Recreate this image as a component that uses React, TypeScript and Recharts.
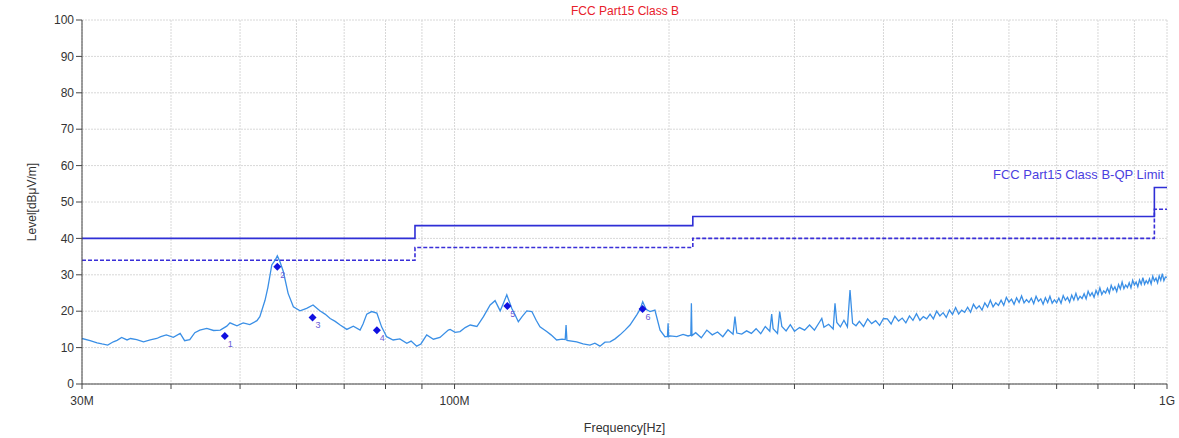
import React from 'react';
import {
  ComposedChart,
  Line,
  Scatter,
  XAxis,
  YAxis,
  CartesianGrid,
} from 'recharts';

// EMC radiated scan, 30 MHz - 1 GHz, FCC Part15 Class B
const xTicks = [30, 40, 50, 60, 70, 80, 90, 100, 200, 300, 400, 500, 600, 700, 800, 900, 1000];
const xTickLabels: Record<number, string> = { 30: '30M', 100: '100M', 1000: '1G' };
const yTicks = [0, 10, 20, 30, 40, 50, 60, 70, 80, 90, 100];

const limitFreq = [30, 88, 216, 960, 1000];
const qpLimit = [40, 43.5, 46, 54, 54];
const qpMargin = [34, 37.5, 40, 48, 48];

const markerFreq = [47.6, 56.4, 63.2, 77.8, 118.6, 183.6];
const markerLevel = [13.2, 32.2, 18.3, 14.8, 21.4, 20.6];

// [MHz, dBuV/m]
const trace: [number, number][] = [
  [30.0, 12.5], [30.8, 11.9], [31.5, 11.3], [32.0, 11.0], [32.6, 10.7], [33.2, 11.6],
  [33.6, 12.0], [34.1, 12.8], [34.7, 12.1], [35.1, 12.5], [35.8, 12.2], [36.6, 11.6],
  [37.4, 12.1], [38.2, 12.5], [38.7, 13.0], [39.4, 13.5], [40.3, 12.8], [41.2, 13.9],
  [41.8, 11.9], [42.5, 12.2], [43.2, 14.1], [43.9, 14.8], [44.9, 15.3], [45.9, 14.7],
  [46.9, 14.8], [47.9, 15.9], [48.4, 16.8], [49.5, 16.0], [50.5, 16.8], [51.6, 16.3],
  [52.8, 17.4], [53.3, 18.5], [54.2, 23.0], [54.7, 26.5], [55.4, 32.7], [56.0, 34.0],
  [56.4, 35.2], [56.9, 33.5], [57.5, 30.9], [58.4, 24.9], [59.4, 21.2], [60.7, 20.1],
  [62.0, 20.8], [63.3, 21.7], [64.7, 20.1], [65.8, 19.2], [66.9, 18.0], [68.0, 17.2],
  [69.1, 16.2], [70.6, 15.0], [72.1, 15.9], [73.7, 14.8], [74.4, 16.5], [75.3, 19.2],
  [76.5, 19.9], [77.8, 19.5], [79.0, 15.7], [80.3, 13.0], [82.0, 12.1], [83.8, 12.4],
  [85.7, 11.2], [86.9, 11.8], [88.5, 10.4], [89.7, 11.0], [91.4, 13.5], [93.4, 12.3],
  [95.4, 12.8], [98.0, 14.8], [98.6, 15.0], [100.2, 14.2], [101.8, 14.4], [103.5, 15.5],
  [105.2, 16.2], [107.5, 15.8], [109.8, 18.5], [112.2, 21.7], [114.0, 22.9], [115.9, 20.1],
  [117.0, 22.0], [118.4, 24.5], [120.3, 20.8], [121.6, 19.0], [122.9, 17.1], [124.4, 18.5],
  [126.3, 20.1], [128.4, 19.9], [130.2, 17.5], [131.8, 15.7], [134.7, 14.4], [136.6, 13.5],
  [139.1, 12.1], [141.6, 12.3], [143.0, 12.2], [143.4, 16.2], [143.8, 12.0], [148.4, 11.6],
  [151.5, 11.0], [154.9, 10.7], [157.4, 11.2], [160.0, 10.4], [162.6, 11.5], [165.3, 11.6],
  [168.0, 12.4], [170.7, 13.5], [173.5, 14.8], [176.3, 16.2], [180.2, 19.0], [182.1, 20.5],
  [183.7, 22.6], [185.7, 20.5], [188.1, 19.9], [191.1, 20.3], [194.3, 14.8], [197.4, 13.0],
  [199.0, 13.1], [199.4, 16.7], [199.8, 13.0], [200.7, 13.2], [205.1, 13.0], [209.3, 13.6],
  [212.7, 13.2], [214.6, 13.4], [215.0, 22.2], [215.4, 13.3],
  [218, 14.1], [222, 12.7], [226, 14.8], [230, 13.5], [234, 14.3], [238, 13.0],
  [242, 14.9], [246, 13.7], [247.5, 18.5], [249, 14.0], [253, 13.7], [257, 14.6],
  [261, 13.9], [265, 15.2], [269, 13.8], [273, 15.8], [277, 14.5], [278.7, 19.2],
  [280, 15.2], [284, 13.9], [286, 19.9], [288, 15.8], [292, 14.6], [296, 16.3],
  [300, 14.5], [305, 15.5], [310, 14.8], [315, 16.2], [320, 14.8], [325, 16.9],
  [327.7, 18.0], [330, 15.6], [335, 16.4], [340, 15.1], [342, 22.2], [344, 16.9],
  [348, 15.7], [352, 17.5], [356, 15.7], [359, 25.8], [362, 16.7], [366, 16.0],
  [370, 17.2], [375, 15.8], [380, 17.9], [385, 16.6], [390, 17.4], [395, 16.1],
  [400, 18.0], [405, 17.9], [410, 16.5], [415, 18.6], [420, 17.3], [425, 18.1],
  [430, 16.8], [435, 18.7], [440, 17.5], [445, 19.3], [450, 17.5], [455, 18.5],
  [460, 17.9], [465, 19.2], [470, 17.9], [475, 20.0], [480, 18.7], [485, 19.6],
  [490, 18.3], [495, 20.3], [500, 19.1], [505, 21.0], [510, 19.2], [515, 20.3],
  [520, 19.7], [525, 21.1], [530, 19.7], [535, 21.9], [540, 20.7], [545, 21.5],
  [550, 20.3], [555, 22.3], [560, 21.1], [565, 23.0], [570, 21.2], [575, 22.3],
  [580, 21.6], [585, 23.0], [590, 21.6], [595, 23.8], [600, 22.5], [605, 23.3],
  [610, 21.9], [615, 23.7], [620, 22.4], [625, 24.2], [630, 22.3], [635, 23.2],
  [640, 22.4], [645, 23.6], [650, 22.1], [655, 24.1], [660, 22.7], [665, 23.4],
  [670, 21.9], [675, 23.7], [680, 22.4], [685, 24.1], [690, 22.2], [695, 23.1],
  [700, 22.3], [705, 23.6], [710, 22.2], [715, 24.3], [720, 23.0], [725, 23.8],
  [730, 22.5], [735, 24.4], [740, 23.1], [745, 24.9], [750, 23.1], [755, 24.1],
  [760, 23.5], [765, 24.8], [770, 23.4], [775, 25.5], [780, 24.2], [785, 25.1],
  [790, 23.8], [795, 25.7], [800, 24.5], [805, 26.4], [810, 24.6], [815, 25.6],
  [820, 25.0], [825, 26.3], [830, 25.0], [835, 27.1], [840, 25.8], [845, 26.7],
  [850, 25.4], [855, 27.3], [860, 26.1], [865, 28.0], [870, 26.2], [875, 27.2],
  [880, 26.5], [885, 27.8], [890, 26.4], [895, 28.5], [900, 27.2], [905, 28.0],
  [910, 26.7], [915, 28.6], [920, 27.4], [925, 29.2], [930, 27.4], [935, 28.4],
  [940, 27.6], [945, 28.9], [950, 27.5], [955, 29.6], [960, 28.3], [965, 29.1],
  [970, 27.8], [975, 29.7], [980, 28.5], [985, 30.3], [990, 28.4], [995, 29.4],
  [1000, 29.3],
];

const traceData = trace.map(([f, v]) => ({ f, v }));
const qpData = limitFreq.map((f, i) => ({ f, v: qpLimit[i] }));
const marginData = limitFreq.map((f, i) => ({ f, v: qpMargin[i] }));
const markerData = markerFreq.map((f, i) => ({ f, v: markerLevel[i], n: i + 1 }));

const FONT = '"Liberation Sans", Arial, sans-serif';

function MarkerShape(props: any) {
  const { cx, cy, payload } = props;
  const r = 4;
  return (
    <g>
      <polygon
        points={`${cx},${cy - r} ${cx + r},${cy} ${cx},${cy + r} ${cx - r},${cy}`}
        fill="#1010e0"
      />
      <text x={cx + 3} y={cy + 11} fontSize={9} fill="#6b5bd6" fontFamily={FONT}>
        {payload.n}
      </text>
    </g>
  );
}

export default function App() {
  return (
    <div style={{ position: 'relative', width: 1179, height: 438, background: '#fff', fontFamily: FONT }}>
      <style>{'body{margin:0}'}</style>
      <div
        style={{
          position: 'absolute',
          left: 0,
          width: 1250,
          top: 4,
          textAlign: 'center',
          fontSize: 12,
          color: '#e8202a',
        }}
      >
        FCC Part15 Class B
      </div>
      <div
        style={{
          position: 'absolute',
          right: 15,
          top: 167,
          fontSize: 13,
          color: '#4a3ee0',
        }}
      >
        FCC Part15 Class B-QP Limit
      </div>
      <ComposedChart
        width={1179}
        height={438}
        margin={{ top: 20, right: 12, left: 0, bottom: 0 }}
      >
        <CartesianGrid stroke="#d8d8d8" strokeDasharray="2 1" />
        <XAxis
          dataKey="f"
          type="number"
          scale="log"
          domain={[30, 1000]}
          ticks={xTicks}
          interval={0}
          allowDataOverflow
          tickFormatter={(t: number) => xTickLabels[t] ?? ''}
          tick={{ fontSize: 12, fill: '#333', fontFamily: FONT }}
          stroke="#444"
          tickSize={5}
          tickMargin={7}
          height={54}
          label={{ value: 'Frequency[Hz]', position: 'insideBottom', offset: 6, fontSize: 12.5, fill: '#333', fontFamily: FONT }}
        />
        <YAxis
          type="number"
          domain={[0, 100]}
          ticks={yTicks}
          interval={0}
          width={82}
          tick={{ fontSize: 12, fill: '#333', fontFamily: FONT }}
          stroke="#444"
          tickSize={6}
          label={{ value: 'Level[dBμV/m]', angle: -90, position: 'insideLeft', offset: 32, fontSize: 12, fill: '#333', fontFamily: FONT, style: { textAnchor: 'middle' } }}
        />
        <Line
          data={marginData}
          dataKey="v"
          type="stepAfter"
          stroke="#3a2fd8"
          strokeWidth={1.6}
          strokeDasharray="4 2"
          dot={false}
          isAnimationActive={false}
        />
        <Line
          data={qpData}
          dataKey="v"
          type="stepAfter"
          stroke="#2f2fd6"
          strokeWidth={1.6}
          dot={false}
          isAnimationActive={false}
        />
        <Line
          data={traceData}
          dataKey="v"
          type="linear"
          stroke="#3a8fe6"
          strokeWidth={1.3}
          dot={false}
          isAnimationActive={false}
        />
        <Scatter
          data={markerData}
          dataKey="v"
          shape={MarkerShape}
          isAnimationActive={false}
        />
      </ComposedChart>
    </div>
  );
}
